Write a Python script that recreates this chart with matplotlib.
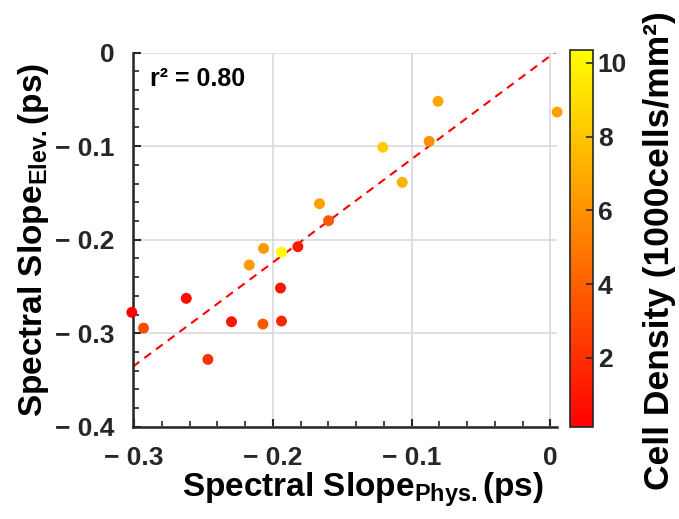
import numpy as np
import matplotlib
matplotlib.use("Agg")
import matplotlib.pyplot as plt
from matplotlib.ticker import MultipleLocator, FuncFormatter

plt.rcParams["font.family"] = ["Liberation Sans", "DejaVu Sans"]
plt.rcParams["font.weight"] = "bold"
plt.rcParams["mathtext.fontset"] = "custom"
plt.rcParams["mathtext.rm"] = "Liberation Sans:bold"
plt.rcParams["mathtext.bf"] = "Liberation Sans:bold"

# data
slope_phys = [-0.081, 0.0048, -0.0874, -0.1208, -0.1068, -0.1664, -0.1599, -0.182,
              -0.2067, -0.1938, -0.217, -0.1945, -0.2624, -0.3016, -0.2932, -0.2298,
              -0.2072, -0.1938, -0.2468]
slope_elev = [-0.052, -0.0635, -0.0948, -0.1012, -0.1387, -0.1615, -0.1797, -0.2075,
              -0.2093, -0.2135, -0.2271, -0.2517, -0.2627, -0.2777, -0.2945, -0.2877,
              -0.2902, -0.287, -0.328]
cell_density = [6.8, 6.6, 5.8, 8.3, 7.3, 6.5, 3.7, 1.15,
                6.3, 10.2, 6.3, 0.95, 0.64, 0.13, 3.2, 0.95,
                3.7, 1.7, 2.2]
density_min, density_max = 0.13, 10.35
fit_slope = 1.105
fit_intercept = -0.0033
r_squared = 0.80
cbar_ticks = [2, 4, 6, 8, 10]

fig = plt.figure(figsize=(6.79, 5.19), dpi=100)
ax = fig.add_axes([0.1954, 0.1778, 0.6245, 0.7207])

sc = ax.scatter(slope_phys, slope_elev, c=cell_density, cmap="autumn",
                vmin=density_min, vmax=density_max, s=62, edgecolors="none",
                zorder=3, clip_on=False)

xlim = (-0.301, 0.0045)
xs = np.array(xlim)
ax.plot(xs, fit_slope * xs + fit_intercept, "--", color="red", lw=1.5, zorder=2,
        dashes=(4, 3))

ax.set_xlim(*xlim)
ax.set_ylim(-0.4, 0)

def fmt(v, pos):
    if abs(v) < 1e-9:
        return "0"
    return "\u2212 %.1f" % abs(v)

ax.xaxis.set_major_locator(MultipleLocator(0.1))
ax.yaxis.set_major_locator(MultipleLocator(0.1))
ax.xaxis.set_minor_locator(MultipleLocator(0.02))
ax.yaxis.set_minor_locator(MultipleLocator(0.02))
ax.xaxis.set_major_formatter(FuncFormatter(fmt))
ax.yaxis.set_major_formatter(FuncFormatter(fmt))
ax.tick_params(which="both", direction="in", colors="#262626", labelsize=19)
ax.tick_params(which="major", length=6, width=1.5)
ax.tick_params(which="minor", length=4, width=1.2)
ax.tick_params(axis="x", pad=14)
ax.tick_params(axis="y", pad=13)

for side in ["top", "right"]:
    ax.spines[side].set_visible(False)
for side in ["left", "bottom"]:
    ax.spines[side].set_color("#262626")
    ax.spines[side].set_linewidth(1.8)

ax.grid(True, which="major", color="#d9d9d9", lw=1.2, zorder=0)
ax.set_axisbelow(True)

ax.text(0.04, 0.93, "r\u00b2 = %.2f" % r_squared, transform=ax.transAxes,
        fontsize=18, fontweight="bold", va="center", ha="left")

ax.set_xlabel(r"Spectral Slope$_{\rm Phys.}$(ps)", fontsize=24, fontweight="bold", labelpad=6)
ax.xaxis.set_label_coords(0.543, -0.115)
ax.set_ylabel(r"Spectral Slope$_{\rm Elev.}$(ps)", fontsize=24, fontweight="bold", labelpad=3)

cax = fig.add_axes([0.8395, 0.1773, 0.0338, 0.7264])
cb = fig.colorbar(sc, cax=cax, ticks=cbar_ticks)
cb.outline.set_edgecolor("#262626")
cb.outline.set_linewidth(1.2)
cax.tick_params(direction="in", length=5, width=1.2, colors="#262626", labelsize=19)
cb.set_label("Cell Density (1000cells/mm\u00b2)", fontsize=25.5, fontweight="bold")
cax.yaxis.set_label_coords(3.2, 0.467)

fig.savefig("out.png", dpi=100)
